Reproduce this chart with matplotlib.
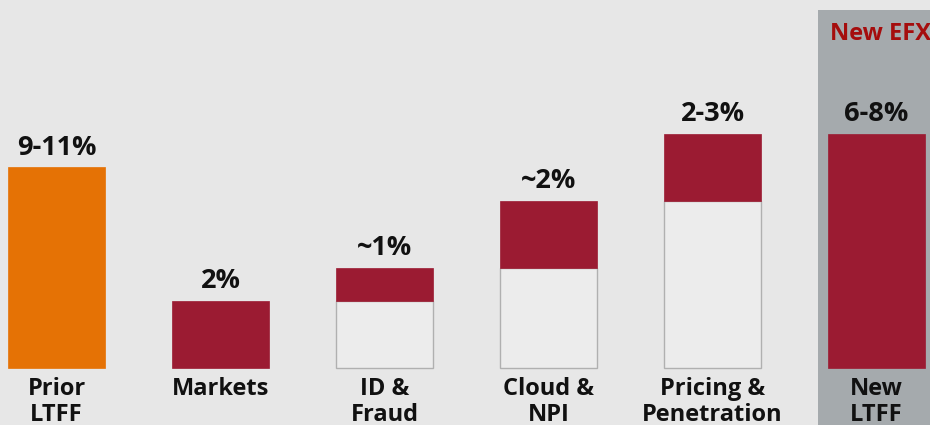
import matplotlib.pyplot as plt
from matplotlib.patches import Rectangle

# Data
categories = ["Prior\nLTFF", "Markets", "ID &\nFraud", "Cloud &\nNPI", "Pricing &\nPenetration", "New\nLTFF"]
value_labels = ["9-11%", "2%", "~1%", "~2%", "2-3%", "6-8%"]
bases = [0, 0, 2, 3, 5, 0]        # white (carried) part under each step
steps = [6, 2, 1, 2, 2, 7]        # coloured part

bg = "#e7e7e7"
orange = "#e57205"
red = "#9b1b32"
gray_col = "#a5aaad"

plt.rcParams['font.family'] = ['Open Sans', 'DejaVu Sans']

fig = plt.figure(figsize=(9.3, 4.25), dpi=100)
fig.patch.set_facecolor(bg)
ax = fig.add_axes([0, 0, 1, 1])
ax.set_facecolor(bg)

xs = list(range(len(categories)))
width = 0.59
ax.set_xlim(-0.3445, 5.326)
ax.set_ylim(-1.705, 11.01)

# highlighted column for the new LTFF
ax.add_patch(Rectangle((4.643, -1.705), 1.0, 12.415, facecolor=gray_col, edgecolor="none", zorder=0))
ax.text(5.33, 10.0, "New EFX", color="#a50d0d", fontsize=17, fontweight="bold",
        ha="right", va="center")

colors = [orange, red, red, red, red, red]
for x, b, s, c in zip(xs, bases, steps, colors):
    if b > 0:
        ax.bar(x, b, width=width, bottom=0, color="#ececec", edgecolor="#b0b0b0", linewidth=1, zorder=2)
    ax.bar(x, s, width=width, bottom=b, color=c, edgecolor=c, linewidth=0.5, zorder=3)

for x, b, s, lab in zip(xs, bases, steps, value_labels):
    ax.text(x, b + s + 0.2, lab, ha="center", va="bottom", fontsize=19.5, fontweight="bold", color="#111111")

for x, cat in zip(xs, categories):
    ax.text(x, -0.26, cat, ha="center", va="top", fontsize=17, fontweight="bold",
            color="#111111", linespacing=1.1)

ax.axis("off")
fig.savefig("out.png", dpi=100, facecolor=bg)
